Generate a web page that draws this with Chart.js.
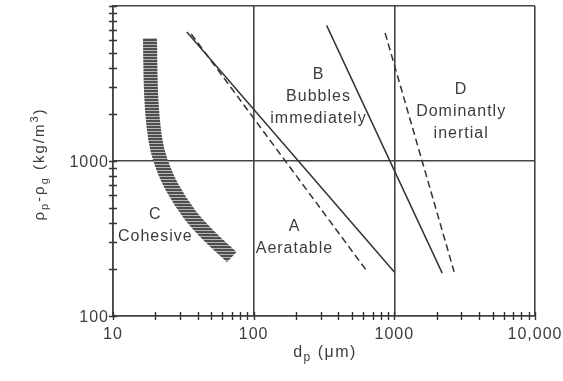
<!DOCTYPE html>
<html>
<head>
<meta charset="utf-8">
<script src="https://cdn.jsdelivr.net/npm/chart.js@4.4.1/dist/chart.umd.min.js"></script>
<style>
  html, body { margin: 0; padding: 0; background: #fff; }
  #wrap { width: 563px; height: 381px; }
</style>
</head>
<body>
<div id="wrap"><canvas id="geldart" width="563" height="381"></canvas></div>
<script>
// boundaries: particle size dp (um) vs density difference (kg/m3)
const abSolidX = [33.5, 1000];
const abSolidY = [6800, 192];
const abDashedX = [36, 630];
const abDashedY = [6600, 198];
const bdSolidX = [330, 2190];
const bdSolidY = [7500, 189];
const bdDashedX = [860, 2660];
const bdDashedY = [6700, 193];

// C/A transition band
const caBandX = [18.3, 18.75, 20.0, 21.9, 26.2, 35.2, 48.8, 69.8];
const caBandY = [6200, 2480, 1370, 990, 680, 450, 325, 240];

// axis labels (only decades are labelled)
const xTickLabels = { 10: '10', 100: '100', 1000: '1000', 10000: '10,000' };
const yTickLabels = { 100: '100', 1000: '1000' };

// group names, one entry per line
const groupText = [
  ['C', 'Cohesive'],
  ['A', 'Aeratable'],
  ['B', 'Bubbles', 'immediately'],
  ['D', 'Dominantly', 'inertial']
];

const FONT = "'Liberation Sans', Arial, sans-serif";
const INK = '#3c3c3c';
const LINE = '#333';

const pts = (xs, ys) => xs.map((x, i) => ({ x: x, y: ys[i] }));
const isDecade = v => {
  const e = Math.log10(v);
  return Math.abs(e - Math.round(e)) < 1e-9;
};
// drop the 150 / 1500 style ticks chart.js adds on log scales
const keepWholeTicks = scale => {
  scale.ticks = scale.ticks.filter(t => {
    const m = t.value / Math.pow(10, Math.floor(Math.log10(t.value) + 1e-9));
    return Math.abs(m - Math.round(m)) < 1e-6;
  });
};

// striped fill for the thick band
function stripePattern() {
  const c = document.createElement('canvas');
  c.width = 4; c.height = 3;
  const g = c.getContext('2d');
  g.fillStyle = '#4e4e4e';
  g.fillRect(0, 0, 4, 3);
  g.fillStyle = '#b4b4b4';
  g.fillRect(0, 2, 4, 1);
  return g.createPattern(c, 'repeat');
}

// text with sub/superscripts, centred on (cx, cy)
function drawRich(ctx, segs, cx, cy, size, spacing) {
  const fontFor = s => (s.sub || s.sup ? Math.round(size * 0.72) : size) + 'px ' + FONT;
  ctx.letterSpacing = spacing + 'px';
  let total = 0;
  segs.forEach(s => { ctx.font = fontFor(s); total += ctx.measureText(s.t).width; });
  let x = cx - total / 2;
  ctx.textAlign = 'left';
  ctx.textBaseline = 'middle';
  segs.forEach(s => {
    ctx.font = fontFor(s);
    const dy = s.sub ? size * 0.3 : (s.sup ? -size * 0.35 : 0);
    ctx.fillText(s.t, x, cy + dy);
    x += ctx.measureText(s.t).width;
  });
}

const decor = {
  id: 'decor',
  beforeDraw(chart) {
    const { ctx, width, height } = chart;
    ctx.save();
    ctx.fillStyle = '#fff';
    ctx.fillRect(0, 0, width, height);
    ctx.restore();
    ctx.letterSpacing = '1px';
  },
  afterDraw(chart, args, opts) {
    const { ctx, chartArea, scales } = chart;
    const xs = scales.x, ys = scales.y;
    ctx.save();

    // tick marks crossing the axis lines
    ctx.strokeStyle = LINE;
    ctx.lineWidth = 1.4;
    ctx.beginPath();
    xs.ticks.forEach(t => {
      const px = Math.round(xs.getPixelForValue(t.value)) + 0.5;
      ctx.moveTo(px, chartArea.bottom - 4);
      ctx.lineTo(px, chartArea.bottom + 4);
    });
    ys.ticks.forEach(t => {
      const py = Math.round(ys.getPixelForValue(t.value)) + 0.5;
      ctx.moveTo(chartArea.left - 4, py);
      ctx.lineTo(chartArea.left + 4, py);
    });
    ctx.stroke();

    // group names
    ctx.fillStyle = INK;
    ctx.font = '16px ' + FONT;
    ctx.letterSpacing = '1px';
    ctx.textAlign = 'center';
    ctx.textBaseline = 'middle';
    opts.groups.forEach((g, i) => {
      const px = xs.getPixelForValue(g.x);
      const py = ys.getPixelForValue(g.y);
      groupText[i].forEach((line, k) => ctx.fillText(line, px, py + k * opts.lineGap));
    });

    // axis titles
    drawRich(ctx, [{ t: 'd' }, { t: 'p', sub: true }, { t: ' (\u03bcm)' }],
      (chartArea.left + chartArea.right) / 2 + 1, 353, 16, 1.5);

    ctx.translate(40, 164);
    ctx.rotate(-Math.PI / 2);
    drawRich(ctx, [
      { t: '\u03c1' }, { t: 'p', sub: true }, { t: '-\u03c1' }, { t: 'g', sub: true },
      { t: ' (kg/m' }, { t: '3', sup: true }, { t: ')' }
    ], 0, 0, 15, 2);
    ctx.restore();
  }
};

const lineSet = (xs, ys, dashed) => ({
  data: pts(xs, ys),
  showLine: true,
  borderColor: LINE,
  borderWidth: 1.5,
  borderDash: dashed ? [7, 4] : [],
  pointRadius: 0,
  fill: false
});

const gridColor = ctx => (ctx.tick && isDecade(ctx.tick.value)) ? '#444' : 'rgba(0,0,0,0)';

new Chart(document.getElementById('geldart'), {
  type: 'scatter',
  data: {
    datasets: [
      {
        data: pts(caBandX, caBandY),
        showLine: true,
        borderColor: stripePattern(),
        borderWidth: 14,
        borderCapStyle: 'butt',
        tension: 0.4,
        pointRadius: 0,
        fill: false
      },
      lineSet(abSolidX, abSolidY, false),
      lineSet(abDashedX, abDashedY, true),
      lineSet(bdSolidX, bdSolidY, false),
      lineSet(bdDashedX, bdDashedY, true)
    ]
  },
  options: {
    responsive: false,
    animation: false,
    events: [],
    layout: { padding: { left: 0, right: 28, top: 6, bottom: 0 } },
    scales: {
      x: {
        type: 'logarithmic',
        min: 10,
        max: 10000,
        afterBuildTicks: keepWholeTicks,
        afterFit: s => { s.height = 65; s.paddingLeft = 0; s.paddingRight = 0; },
        grid: { color: gridColor, lineWidth: 1.6, drawTicks: false },
        border: { color: '#444', width: 1.6 },
        ticks: {
          autoSkip: false,
          maxRotation: 0,
          padding: 9,
          color: INK,
          font: { family: FONT, size: 16 },
          callback: v => xTickLabels[v] || ''
        }
      },
      y: {
        type: 'logarithmic',
        min: 100,
        max: 10000,
        afterBuildTicks: keepWholeTicks,
        afterFit: s => { s.width = 113; s.paddingTop = 0; s.paddingBottom = 0; },
        grid: { color: gridColor, lineWidth: 1.6, drawTicks: false },
        border: { color: '#444', width: 1.6 },
        ticks: {
          autoSkip: false,
          padding: 4,
          labelOffset: 2,
          color: INK,
          font: { family: FONT, size: 16 },
          callback: v => yTickLabels[v] || ''
        }
      }
    },
    plugins: {
      legend: { display: false },
      tooltip: { enabled: false },
      decor: {
        lineGap: 22,
        groups: [
          { x: 20, y: 450 },
          { x: 195, y: 375 },
          { x: 289, y: 3590 },
          { x: 2985, y: 2870 }
        ]
      }
    }
  },
  plugins: [decor]
});
</script>
</body>
</html>
